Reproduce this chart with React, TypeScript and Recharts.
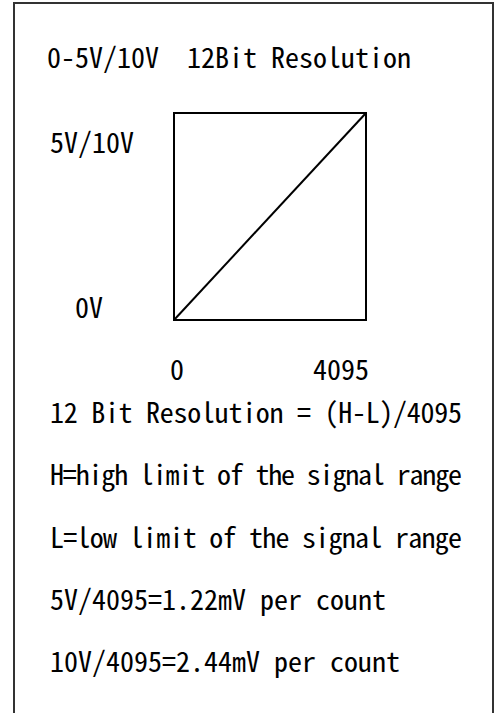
import { LineChart, Line, XAxis, YAxis, ReferenceArea, Customized } from 'recharts'

// counts on the horizontal axis, volts on the vertical axis
const countTicks = [0, 4095]
const voltTicks = [0, 10]
const voltTickLabels = ['0V', '5V/10V']
const transferLine = [
  { count: 0, volts: 0 },
  { count: 4095, volts: 10 },
]

const title = '0-5V/10V  12Bit Resolution'
const notes = [
  '12 Bit Resolution = (H-L)/4095',
  'H=high limit of the signal range',
  'L=low limit of the signal range',
  '5V/4095=1.22mV per count',
  '10V/4095=2.44mV per count',
]

const FONT = '"Noto Sans Mono CJK JP", "Noto Sans CJK JP", "DejaVu Sans Mono", monospace'
const FONT_SIZE = 28
const CHAR_W = 14
const MAX_LINE_W = 412

// fit each line to the half-width cell grid, squeeze the long ones a bit
const fitWidth = (s: string) => Math.min(s.length * CHAR_W, MAX_LINE_W)

function TextLine({ x, y, text }: { x: number; y: number; text: string }) {
  return (
    <text
      x={x}
      y={y}
      fontFamily={FONT}
      fontSize={FONT_SIZE}
      fill="#000"
      textLength={fitWidth(text)}
      lengthAdjust="spacing"
      style={{ whiteSpace: 'pre' }}
    >
      {text}
    </text>
  )
}

function CountTick(props: any) {
  const { x, y, payload, index } = props
  const first = index === 0
  return (
    <text
      x={x + (first ? -4 : 3)}
      y={y + 60}
      textAnchor={first ? 'start' : 'end'}
      fontFamily={FONT}
      fontSize={FONT_SIZE}
      fill="#000"
    >
      {payload.value}
    </text>
  )
}

function VoltTick(props: any) {
  const { x, y, payload } = props
  const i = voltTicks.indexOf(payload.value)
  const top = i === voltTicks.length - 1
  return (
    <text
      x={x + (top ? -40 : -71)}
      y={y + (top ? 40 : -2)}
      textAnchor="end"
      fontFamily={FONT}
      fontSize={FONT_SIZE}
      fill="#000"
    >
      {voltTickLabels[i]}
    </text>
  )
}

function Annotations() {
  return (
    <g>
      {/* outer frame, bottom edge runs off the page */}
      <path d="M14,720 V3 H493 V720" fill="none" stroke="#333" strokeWidth={2} />
      <TextLine x={47} y={68} text={title} />
      {notes.map((n, i) => (
        <TextLine key={i} x={50} y={423 + i * 62.3} text={n} />
      ))}
    </g>
  )
}

export default function App() {
  return (
    <div style={{ position: 'absolute', left: 0, top: 0, background: '#fff' }}>
      <LineChart
        width={499}
        height={713}
        data={transferLine}
        margin={{ top: 113, right: 133, bottom: 363, left: 114 }}
      >
        <XAxis
          type="number"
          dataKey="count"
          domain={[0, 4095]}
          ticks={countTicks}
          axisLine={false}
          tickLine={false}
          tickSize={0}
          tickMargin={0}
          height={30}
          tick={<CountTick />}
          interval={0}
        />
        <YAxis
          type="number"
          domain={[0, 10]}
          ticks={voltTicks}
          axisLine={false}
          tickLine={false}
          tickSize={0}
          tickMargin={0}
          width={60}
          tick={<VoltTick />}
          interval={0}
        />
        <ReferenceArea
          x1={0}
          x2={4095}
          y1={0}
          y2={10}
          fill="none"
          stroke="#000"
          strokeWidth={2}
        />
        <Line
          type="linear"
          dataKey="volts"
          stroke="#000"
          strokeWidth={2}
          dot={false}
          activeDot={false}
          isAnimationActive={false}
        />
        <Customized component={<Annotations />} />
      </LineChart>
    </div>
  )
}
